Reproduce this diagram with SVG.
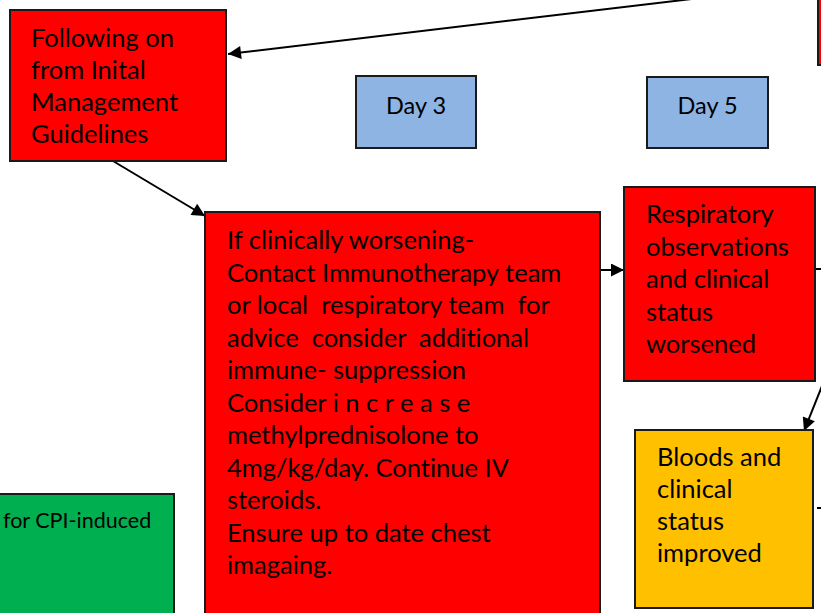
<svg xmlns="http://www.w3.org/2000/svg" width="821" height="613" viewBox="0 0 821 613">
<style>
.box{stroke:#1a1a1a;stroke-width:2}
.red{fill:#ff0000}
.blue{fill:#8eb4e3}
.orange{fill:#ffc000}
.green{fill:#00b050}
text{font-family:Lato,"Open Sans",sans-serif;font-size:25.5px;fill:#000;white-space:pre;font-variant-ligatures:none}
.small{font-size:21.5px}
.day{font-size:23.5px}
.conn{stroke:#000;stroke-width:2;fill:none}
</style>
<defs>
<marker id="ahb" viewBox="0 0 10 10" refX="10" refY="5" markerWidth="16" markerHeight="13" markerUnits="userSpaceOnUse" orient="auto">
<path d="M0,0 L10,5 L0,10 z" fill="#000"/>
</marker>
</defs>
<g id="connectors">
<line class="conn" x1="700" y1="-2" x2="228" y2="54" marker-end="url(#ahb)"/>
<line class="conn" x1="113" y1="161" x2="205" y2="216" marker-end="url(#ahb)"/>
<line class="conn" x1="599" y1="270" x2="624" y2="270" marker-end="url(#ahb)"/>
<line class="conn" x1="822" y1="386" x2="804" y2="431" marker-end="url(#ahb)"/>
<line class="conn" x1="815" y1="269" x2="821" y2="269"/>
<line class="conn" x1="817" y1="508" x2="821" y2="508"/>
</g>
<g id="node-topright">
<rect class="box red" x="818" y="-5" width="10" height="70"/>
</g>
<g id="node-following">
<rect class="box red" x="10" y="10" width="216" height="151"/>
<text x="31" y="47">Following on</text>
<text x="31" y="79">from Inital</text>
<text x="31" y="111">Management</text>
<text x="31" y="143">Guidelines</text>
</g>
<g id="node-day3">
<rect class="box blue" x="356" y="76" width="120" height="72"/>
<text class="day" x="416" y="114" text-anchor="middle">Day 3</text>
</g>
<g id="node-day5">
<rect class="box blue" x="647" y="77" width="121" height="71"/>
<text class="day" x="707.5" y="114" text-anchor="middle">Day 5</text>
</g>
<g id="node-worsening">
<rect class="box red" x="205" y="212" width="395" height="410"/>
<text x="227" y="249">If clinically worsening-</text>
<text x="227" y="281.5">Contact Immunotherapy team</text>
<text x="227" y="314">or local  respiratory team  for</text>
<text x="227" y="346.5">advice  consider  additional</text>
<text x="227" y="379">immune- suppression</text>
<text x="227" y="411.5">Consider i n c r e a s e</text>
<text x="227" y="444">methylprednisolone to</text>
<text x="227" y="476.5">4mg/kg/day. Continue IV</text>
<text x="227" y="509">steroids.</text>
<text x="227" y="541.5">Ensure up to date chest</text>
<text x="227" y="574">imagaing.</text>
</g>
<g id="node-respiratory">
<rect class="box red" x="624" y="187" width="191" height="194"/>
<text x="646" y="223">Respiratory</text>
<text x="646" y="255.5">observations</text>
<text x="646" y="288">and clinical</text>
<text x="646" y="320.5">status</text>
<text x="646" y="353">worsened</text>
</g>
<g id="node-bloods">
<rect class="box orange" x="635" y="430" width="178" height="178"/>
<text x="657" y="466">Bloods and</text>
<text x="657" y="498">clinical</text>
<text x="657" y="530">status</text>
<text x="657" y="562">improved</text>
</g>
<g id="node-green">
<rect class="box green" x="-5" y="494" width="179" height="130"/>
<text class="small" x="3" y="528">for CPI-induced</text>
</g>
</svg>
